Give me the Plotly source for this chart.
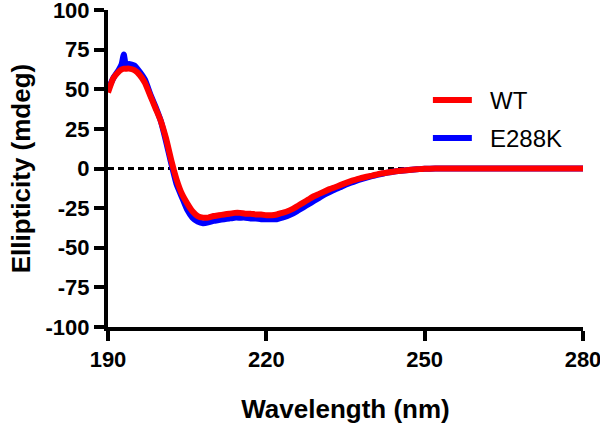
import plotly.graph_objects as go

wavelength = [190, 191, 192, 192.6, 193.0, 193.4, 194, 195, 196, 197, 198, 199, 200, 201, 202,
              203, 204, 205, 206, 207, 208, 209, 210, 211, 212, 213, 214, 215, 216, 217, 218,
              219, 220, 221, 222, 223, 224, 225, 226, 227, 228, 229, 230, 231, 232, 233, 234,
              235, 236, 237, 238, 239, 240, 241, 242, 243, 244, 245, 246, 247, 248, 249, 250,
              252, 254, 256, 258, 260, 262, 264, 266, 268, 270, 272, 274, 276, 278, 280]

wt = [48, 57, 61, 62.5, 63, 63, 63, 62, 59, 54, 46, 38, 30, 19, 5,
      -7, -16, -22, -27, -30, -31, -31, -30, -29.5, -29, -28.5, -28, -28, -28.5, -28.5, -29,
      -29, -29.5, -29.5, -29, -28, -27, -25.5, -23.5, -21.5, -19.5, -17.5, -16, -14.5, -13, -11.8, -10.5,
      -9.2, -8, -7, -6, -5.2, -4.5, -3.7, -3, -2.5, -2, -1.6, -1.2, -0.9, -0.6, -0.4, -0.2,
      0, 0, 0, 0, 0, 0, 0, 0, 0, 0, 0, 0, 0, 0, 0]

e288k = [50, 57, 62, 66, 72, 65, 66, 65, 61, 56, 47, 39, 30, 17, 3,
         -10, -18, -26, -31, -33.5, -34.5, -34, -33, -32.5, -32, -31.5, -31, -31, -31, -31.5, -31.5,
         -32, -32, -32, -32, -31, -30, -28.5, -26.5, -24.5, -22.5, -20.5, -18.5, -16.5, -14.8, -13.2, -11.8,
         -10.3, -9, -7.8, -6.7, -5.7, -4.8, -4, -3.3, -2.6, -2, -1.6, -1.2, -0.9, -0.6, -0.4, -0.2,
         0, 0, 0, 0, 0, 0, 0, 0, 0, 0, 0, 0, 0, 0, 0]

x_ticks = [190, 220, 250, 280]
y_ticks = [-100, -75, -50, -25, 0, 25, 50, 75, 100]
series_names = ["WT", "E288K"]
series_colors = ["#ff0000", "#0000ff"]

FONT = "Liberation Sans, Arial, sans-serif"

fig = go.Figure()
fig.add_trace(go.Scatter(x=wavelength, y=e288k, mode="lines", name=series_names[1],
                         line=dict(color=series_colors[1], width=6, shape="spline", smoothing=0.4),
                         showlegend=False))
fig.add_trace(go.Scatter(x=wavelength, y=wt, mode="lines", name=series_names[0],
                         line=dict(color=series_colors[0], width=6, shape="spline", smoothing=0.4),
                         showlegend=False))

# zero reference line
fig.add_shape(type="line", xref="x", yref="y", x0=190, x1=280, y0=0, y1=0,
              line=dict(color="black", width=3, dash="6px,4px"), layer="below")

# manual legend
legend_y = [0.716, 0.596]
for name, color, ly in zip(series_names, series_colors, legend_y):
    fig.add_shape(type="line", xref="paper", yref="paper", x0=0.684, x1=0.766, y0=ly, y1=ly,
                  line=dict(color=color, width=6))
    fig.add_annotation(xref="paper", yref="paper", x=0.800, y=ly, text=name, showarrow=False,
                       xanchor="left", yanchor="middle",
                       font=dict(family=FONT, size=24, color="black"))

axis_common = dict(showline=True, linecolor="black", linewidth=4, ticks="outside",
                   ticklen=10, tickwidth=4, tickcolor="black", showgrid=False, zeroline=False,
                   automargin=False, ticklabeloverflow="allow",
                   tickfont=dict(family=FONT, size=22, color="black", weight="bold"))

fig.update_xaxes(range=[190, 280], tickvals=x_ticks, ticktext=[str(t) for t in x_ticks],
                 title=dict(text="Wavelength (nm)", standoff=34,
                            font=dict(family=FONT, size=26, color="black", weight="bold")),
                 **axis_common)
fig.update_yaxes(range=[-100, 100], tickvals=y_ticks, ticktext=[str(t) for t in y_ticks],
                 title=dict(text="Ellipticity (mdeg)", standoff=8,
                            font=dict(family=FONT, size=26, color="black", weight="bold")),
                 **axis_common)

fig.update_layout(width=600, height=424, margin=dict(l=108, r=17, t=10, b=97),
                  plot_bgcolor="white", paper_bgcolor="white", showlegend=False)

fig.write_html("out.html", config={"displayModeBar": False},
               post_script="document.body.style.margin='0';document.body.style.overflow='hidden';")
